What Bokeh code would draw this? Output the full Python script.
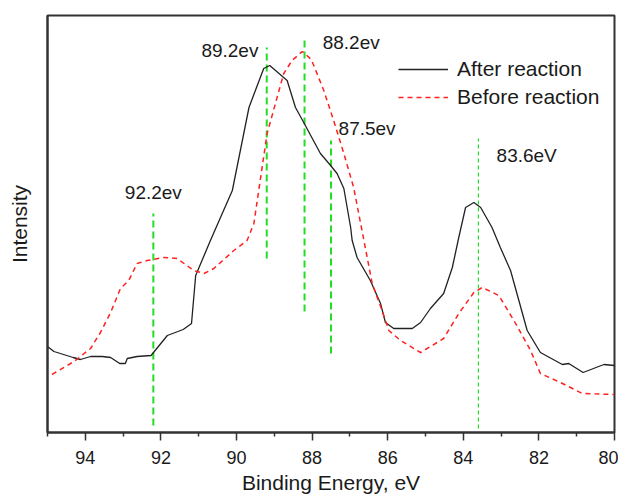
from bokeh.plotting import figure
from bokeh.models import Range1d, FixedTicker, ColumnDataSource
from bokeh.core.properties import value
from bokeh.embed import file_html
from bokeh.resources import INLINE

# ---- data (binding energy in eV, intensity in arbitrary units) ----
after_energy = [95.0, 94.83, 94.32, 94.13, 93.86, 93.55, 93.33, 93.09, 92.94, 92.89, 92.63,
                92.26, 91.83, 91.41, 91.19, 91.08, 90.69, 90.11, 89.67, 89.28, 89.12, 88.66,
                88.44, 88.25, 87.78, 87.51, 87.34, 87.16, 86.98, 86.94, 86.81, 86.46, 86.19,
                86.06, 85.84, 85.35, 85.13, 84.87, 84.52, 84.29, 84.12, 83.94, 83.72, 83.54,
                83.24, 83.02, 82.75, 82.31, 81.96, 81.38, 81.21, 80.83, 80.28, 80.0]
after_intensity = [86, 81, 75, 73, 76, 76, 75, 69, 69, 74, 76,
                   77, 97, 103, 109, 157, 192, 242, 325, 364, 367, 352,
                   325, 312, 279, 267, 259, 244, 205, 192, 175, 152, 129,
                   110, 104, 104, 110, 124, 139, 165, 195, 225, 230, 225,
                   205, 185, 162, 102, 80, 68, 69, 60, 68, 67]

before_energy = [94.88, 94.3, 93.86, 93.6, 93.33, 93.07, 92.85, 92.63, 92.36, 91.92, 91.57,
                 91.13, 90.86, 90.6, 90.07, 89.72, 89.54, 89.19, 88.75, 88.53, 88.26, 88.02,
                 87.69, 87.43, 87.16, 86.9, 86.67, 86.41, 86.15, 85.97, 85.66, 85.13, 84.52,
                 84.12, 83.72, 83.5, 83.06, 82.66, 82.22, 81.96, 81.43, 80.85, 80.0]
before_intensity = [58, 71, 84, 100, 120, 144, 152, 169, 172, 175, 174,
                    162, 159, 164, 182, 192, 209, 299, 359, 372, 381, 373,
                    342, 312, 279, 245, 200, 149, 122, 102, 92, 80, 94,
                    119, 140, 145, 137, 112, 82, 59, 50, 39, 38]

# peak markers: energy, line bottom, line top, label text, label anchor
peak_energy = [92.2, 89.2, 88.2, 87.5, 83.6]
peak_low = [7, 174, 121, 79, 4]
peak_high = [219, 385, 392, 292, 294]
peak_label = ["92.2ev", "89.2ev", "88.2ev", "87.5ev", "83.6eV"]
label_x = [92.2, 89.42, 87.72, 87.30, 83.12]
label_y = [240, 382, 390, 304, 277]
label_align = ["center", "right", "left", "left", "left"]

x_ticks = [94, 92, 90, 88, 86, 84, 82, 80]
x_minor = [95, 93, 91, 89, 87, 85, 83, 81]

FONT = "Liberation Sans"
TXT = "#1a1a1a"

p = figure(width=618, height=498, output_backend="svg", toolbar_location=None,
           x_range=Range1d(95, 80), y_range=Range1d(0, 417),
           min_border_left=47, min_border_right=4, min_border_top=15, min_border_bottom=66)
p.grid.visible = False
p.outline_line_color = "#333333"
p.outline_line_width = 2
p.background_fill_color = "white"
p.border_fill_color = "white"

# peak guide lines
for i in range(4):
    p.line([peak_energy[i], peak_energy[i]], [peak_low[i], peak_high[i]],
           line_color="#22dd22", line_width=2, line_dash="7 4")
p.line([peak_energy[4], peak_energy[4]], [peak_low[4], peak_high[4]],
       line_color="#22dd22", line_width=1.2, line_dash="4 3")

# spectra
p.line(after_energy, after_intensity, line_color="#222222", line_width=1.3,
       legend_label="After reaction")
p.line(before_energy, before_intensity, line_color="#ff2020", line_width=1.5,
       line_dash="5 4", legend_label="Before reaction")

src = ColumnDataSource(dict(x=label_x, y=label_y, t=peak_label, a=label_align))
p.text(x="x", y="y", text="t", source=src, text_align="a", text_baseline="middle",
       text_font=value(FONT), text_font_size="19px", text_color=TXT)

# axes
xa = p.xaxis[0]
xa.ticker = FixedTicker(ticks=x_ticks, minor_ticks=x_minor)
xa.axis_label = "Binding Energy, eV"
xa.axis_label_text_font = FONT
xa.axis_label_text_font_size = "21px"
xa.axis_label_text_font_style = "normal"
xa.axis_label_text_color = TXT
xa.axis_label_standoff = 4
xa.major_label_text_font = FONT
xa.major_label_text_font_size = "18px"
xa.major_label_text_color = TXT
xa.major_label_standoff = 10
xa.major_tick_out = 8
xa.major_tick_in = 0
xa.minor_tick_out = 4
xa.minor_tick_in = 0
xa.axis_line_width = 2
xa.axis_line_color = "#333333"
xa.major_tick_line_width = 1.5
xa.minor_tick_line_width = 1.5
xa.major_tick_line_color = "#333333"
xa.minor_tick_line_color = "#333333"

ya = p.yaxis[0]
ya.ticker = FixedTicker(ticks=[])
ya.major_tick_out = 0
ya.minor_tick_out = 0
ya.major_label_text_font_size = "0px"
ya.axis_label = "Intensity"
ya.axis_label_text_font = FONT
ya.axis_label_text_font_size = "21px"
ya.axis_label_text_font_style = "normal"
ya.axis_label_text_color = TXT
ya.axis_label_standoff = 17
ya.axis_line_width = 2
ya.axis_line_color = "#333333"

lg = p.legend[0]
lg.location = (351, 323)
lg.glyph_width = 50
lg.glyph_height = 20
lg.label_height = 20
lg.spacing = 4
lg.padding = 0
lg.margin = 0
lg.label_standoff = 9
lg.border_line_alpha = 0
lg.background_fill_alpha = 0
lg.label_text_font = FONT
lg.label_text_font_size = "21px"
lg.label_text_color = TXT

open("out.html", "w").write(file_html(p, INLINE))
